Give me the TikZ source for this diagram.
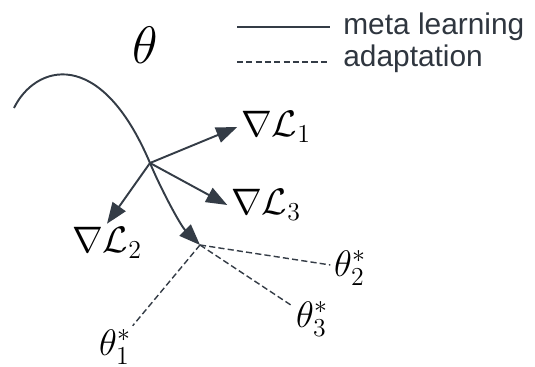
\RequirePackage{fix-cm}
\documentclass[tikz,border=0pt]{standalone}
\usepackage{amsmath,amssymb}
\usepackage{fontspec}
\usepackage{tikz}
\usetikzlibrary{positioning,arrows.meta}
\setsansfont{Liberation Sans}
\definecolor{inkgray}{RGB}{52,60,70}

\begin{document}
\begin{tikzpicture}[
x=0.02cm, y=-0.02cm,
node distance=0.26cm,
mathlbl/.style={font=\fontsize{21}{25}\selectfont, inner sep=2pt},
legend/.style={font=\sffamily\fontsize{17}{20}\selectfont, text=inkgray!90!black, inner sep=0pt},
solidline/.style={draw=inkgray, line width=1.1pt},
adaptline/.style={draw=inkgray, line width=0.8pt, dash pattern=on 3.5pt off 1.8pt},
tip/.style={-{Triangle[length=12pt,width=9pt]}}
]
\useasboundingbox (0,0) rectangle (535,367);

% legend
\coordinate (lgsolid) at (237,27);
\coordinate (lgsolidend) at (330,27);
\coordinate (lgdash) at (237,62);
\coordinate (lgdashend) at (330,62);
\node[legend, right=of lgsolidend] (meta) {meta learning};
\node[legend, right=of lgdashend, yshift=0.06cm] (adapt) {adaptation};
\draw[solidline, line width=0.6pt] (lgsolid) -- (lgsolidend);
\draw[adaptline, line width=0.6pt] (lgdash) -- (lgdashend);

% meta learning path
\node[font=\fontsize{30}{34}\selectfont] (theta) at (145,45) {$\theta$};
\coordinate (start) at (14,108);
\coordinate (branch) at (150,163);
\coordinate (adapted) at (200,245);
\draw[solidline] (start) .. controls (35,65) and (100,45) .. (branch);
\draw[solidline, tip] (branch) .. controls (160,187) and (180,225) .. (adapted);

% task gradients
\node[mathlbl] (grad1) at (276,127) {$\nabla\mathcal{L}_1$};
\node[mathlbl] (grad2) at (107,243) {$\nabla\mathcal{L}_2$};
\node[mathlbl] (grad3) at (266,205) {$\nabla\mathcal{L}_3$};
\draw[solidline, tip] (branch) -- (grad1.west);
\draw[solidline, tip] (branch) -- (grad2.north);
\draw[solidline, tip] (branch) -- (grad3.west);

% adapted parameters
\node[mathlbl] (opt1) at (115,347) {$\theta_1^*$};
\node[mathlbl] (opt2) at (350,268) {$\theta_2^*$};
\node[mathlbl] (opt3) at (312,319) {$\theta_3^*$};
\draw[adaptline] (adapted) -- (opt1);
\draw[adaptline] (adapted) -- (opt2);
\draw[adaptline] (adapted) -- (opt3);
\end{tikzpicture}
\end{document}
